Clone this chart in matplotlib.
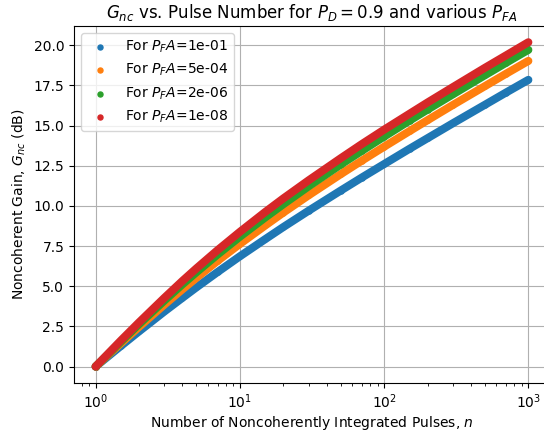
import numpy as np
import matplotlib
matplotlib.use("Agg")
import matplotlib.pyplot as plt


# values
pulses = [1, 1.5, 2, 3, 4, 5, 7, 10, 15, 20, 30, 50, 70, 100,
          150, 200, 300, 500, 700, 1000]
pfa_values = [1e-1, 5e-4, 2e-6, 1e-8]

gain_pfa1 = [0.0, 1.29, 2.19, 3.43, 4.28, 4.93, 5.88, 6.86, 7.93, 8.68,
             9.70, 10.95, 11.76, 12.60, 13.55, 14.21, 15.14, 16.29, 17.05, 17.84]
gain_pfa2 = [0.0, 1.46, 2.47, 3.86, 4.81, 5.52, 6.57, 7.63, 8.78, 9.58,
             10.66, 11.97, 12.81, 13.68, 14.65, 15.33, 16.28, 17.45, 18.22, 19.02]
gain_pfa3 = [0.0, 1.56, 2.64, 4.11, 5.12, 5.87, 6.97, 8.08, 9.28, 10.10,
             11.22, 12.57, 13.42, 14.31, 15.30, 15.99, 16.94, 18.13, 18.90, 19.71]
gain_pfa4 = [0.0, 1.63, 2.75, 4.28, 5.33, 6.11, 7.24, 8.38, 9.62, 10.46,
             11.59, 12.96, 13.84, 14.74, 15.73, 16.43, 17.39, 18.59, 19.36, 20.18]
gains = [gain_pfa1, gain_pfa2, gain_pfa3, gain_pfa4]
colors = ["tab:blue", "tab:orange", "tab:green", "tab:red"]


fig = plt.figure(figsize=(5.44, 4.34), dpi=100)
ax = fig.add_axes([0.136, 0.118, 0.875, 0.822])

n = np.array(pulses)
for pfa, g, c in zip(pfa_values, gains, colors):
    ax.plot(n, g, "-", color=c, lw=5.8, solid_capstyle="round",
            solid_joinstyle="round")
    ax.scatter(n, g, s=13, color=c, label=f"For $P_FA$={pfa:.0e}")

ax.set_xscale("log")
ax.set_title(r"$G_{nc}$ vs. Pulse Number for $P_D = 0.9$ and various $P_{FA}$")
ax.set_xlabel(r"Number of Noncoherently Integrated Pulses, $n$", labelpad=2)
ax.set_ylabel(r"Noncoherent Gain, $G_{nc}$ (dB)")
ax.grid(True)
ax.legend(loc="upper left")

fig.savefig("out.png", dpi=100)
